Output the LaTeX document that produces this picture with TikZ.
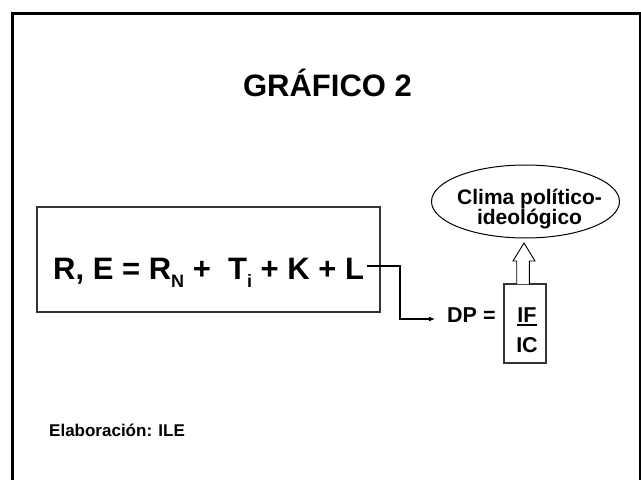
\documentclass[tikz,border=0pt]{standalone}
\usepackage{fontspec}
\setmainfont{Liberation Sans}
\usetikzlibrary{arrows.meta,shapes.geometric}
\newcommand{\lowsub}[1]{\raisebox{-8bp}{\fontsize{18bp}{18bp}\selectfont #1}}
\tikzset{
  frameline/.style={line width=2.2bp,black},
  boxline/.style={draw=black!80,line width=1.1bp},
  conn/.style={line width=1.1bp,-{Latex[length=6bp,width=5bp]}},
}
\begin{document}
\begin{tikzpicture}[x=1bp,y=-1bp]
\useasboundingbox (0,0) rectangle (641,480);
\fill[white] (0,0) rectangle (641,480);
% outer frame
\draw[frameline] (12.5,490) -- (12.5,13.5) -- (640,13.5) -- (640,490);
% title
\node[anchor=base,inner sep=0,font=\bfseries\fontsize{31bp}{31bp}\selectfont] (title) at (327.5,97) {GRÁFICO 2};
% main box
\node[boxline,minimum width=343bp,minimum height=105bp,inner sep=0] (box) at (208.5,259.5) {};
\node[anchor=base west,inner sep=0,font=\bfseries\fontsize{31bp}{31bp}\selectfont] (eq) at (53,279)
  {R, E = R\lowsub{N} +\ \ T\lowsub{i} + K + L};
% connector
\coordinate (src) at (367,266);
\coordinate (tip) at (435,319);
\draw[conn] (src) -- (400,266) |- (tip);
% DP =
\node[anchor=base west,inner sep=0,font=\bfseries\fontsize{21.5bp}{21.5bp}\selectfont] (dp) at (447,322) {DP =};
% fraction box
\node[boxline,minimum width=42bp,minimum height=79bp,inner sep=0] (frac) at (525,323.5) {};
\node[anchor=base,inner sep=0,font=\bfseries\fontsize{21.5bp}{21.5bp}\selectfont] (if) at (527,322) {IF};
\draw[line width=2bp] ([yshift=-3bp]if.base west) -- ([yshift=-3bp]if.base east);
\node[anchor=base,inner sep=0,font=\bfseries\fontsize{21.5bp}{21.5bp}\selectfont] (ic) at (527,352) {IC};
% hollow block arrow
\draw[line width=0.9bp,fill=white] (516.7,284) -- (516.7,261) -- (513,261) -- (524,243) -- (535,261) -- (529.3,261) -- (529.3,284);
% ellipse
\node[ellipse,draw,line width=1bp,minimum width=188bp,minimum height=73bp,inner sep=0] (clima) at (525.5,201.5) {};
\node[align=center,inner sep=0,font=\bfseries\fontsize{21bp}{20bp}\selectfont] (climatext) at (529.5,209.5) {Clima político-\\ideológico};
% source note
\node[anchor=base west,inner sep=0,font=\bfseries\fontsize{17bp}{17bp}\selectfont] (elab) at (49,436) {Elaboración: ILE};
\end{tikzpicture}
\end{document}
